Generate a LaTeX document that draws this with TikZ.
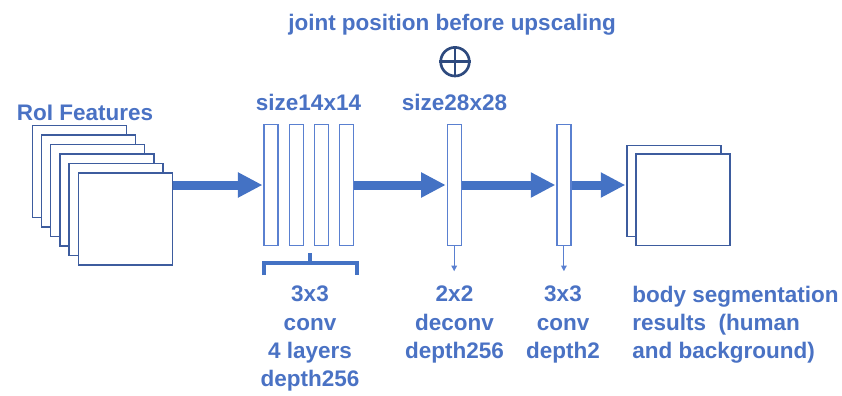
\documentclass[tikz,border=0pt]{standalone}
\usepackage{fontspec}
\setmainfont{Liberation Sans}
\usetikzlibrary{positioning,arrows.meta}

\definecolor{labelblue}{HTML}{4A72C4}
\definecolor{arrowblue}{HTML}{4472C4}
\definecolor{boxblue}{HTML}{3D5C9E}
\definecolor{layerblue}{HTML}{5A80D0}
\definecolor{navyblue}{HTML}{2E4A7E}

\begin{document}
\begin{tikzpicture}[
  x=0.025cm, y=-0.025cm,
  font=\fontsize{16}{20}\selectfont\bfseries,
  every node/.style={text=labelblue},
  feature/.style={
    draw=boxblue,
    line width=1pt,
    fill=white,
    minimum width=2.35cm,
    minimum height=2.3cm
  },
  layer/.style={
    draw=layerblue,
    line width=0.9pt,
    fill=white,
    inner sep=0pt,
    minimum width=0.35cm,
    minimum height=3.025cm
  },
  flow/.style={arrowblue, line width=0.225cm, shorten >=1pt,
    -{Triangle[length=0.6cm,width=0.64cm,line width=0pt]}},
  drop/.style={layerblue, line width=0.6pt, -{Triangle[length=1.4mm,width=1.5mm,line width=0pt]}},
  brace/.style={arrowblue, line width=0.1cm},
  caption/.style={align=center, inner sep=0pt, anchor=north}
]
\useasboundingbox (0,0) rectangle (842,395);

% Input features
\foreach \i in {1,...,6}
  \node[feature] (f\i) at ({125.3-9.2*(6-\i)},{219-9.5*(6-\i)}) {};
\node[anchor=base] (roi) at (85,120.5) {RoI Features};

% Conv layers
\node[layer] (l1) at (271,185) {};
\node[layer, right=0.25cm of l1] (l2) {};
\node[layer, right=0.25cm of l2] (l3) {};
\node[layer, right=0.25cm of l3] (l4) {};
\node[layer] (l5) at (454.2,185) {};
\node[layer] (l6) at (563.9,185) {};

% Output maps
\node[feature, minimum height=2.28cm] (o1) at (673.9,190.9) {};
\node[feature, minimum height=2.28cm] (o2) at (683,199.7) {};

% Main flow
\draw[flow] (f6.east |- l1.west) -- (l1.west);
\draw[flow] (l4.east) -- (l5.west);
\draw[flow] (l5.east) -- (l6.west);
\draw[flow] (l6.east) -- (l6.east -| o1.west);

% Small outputs below deconv / conv
\coordinate[below=0.625cm of l5.south] (d5);
\coordinate[below=0.625cm of l6.south] (d6);
\draw[drop] (l5.south) -- (d5);
\draw[drop] (l6.south) -- (d6);

% Brace under the four layers
\coordinate (bl) at (264,275);
\coordinate (br) at (356.7,275);
\coordinate (bm) at (310,263);
\draw[brace] (bl) -- (bl |- bm) -- (br |- bm) -- (br);
\draw[brace] (bm) -- ++(0,-10.5);

% Top labels
\node[anchor=base] (s14) at (308.5,110) {size14x14};
\node[anchor=base] (s28) at (454.5,110) {size28x28};
\node[anchor=base] (joint) at (452,30.7) {joint position before upscaling};
\node[circle, draw=navyblue, line width=1.9pt, minimum size=0.715cm, inner sep=0pt] (plus) at (455,61.7) {};
\draw[navyblue, line width=1.9pt] (plus.north) -- (plus.south) (plus.west) -- (plus.east);

% Bottom labels
\node[caption] (k1) at (310,286) {3x3\\conv\\4 layers\\depth256};
\node[caption] (k2) at (454.5,286) {2x2\\deconv\\depth256};
\node[caption] (k3) at (563,286) {3x3\\conv\\depth2};
\node[caption, align=left, anchor=north west] (k4) at (632,286) {body segmentation\\results\ \ (human\\and background)};

\end{tikzpicture}
\end{document}
